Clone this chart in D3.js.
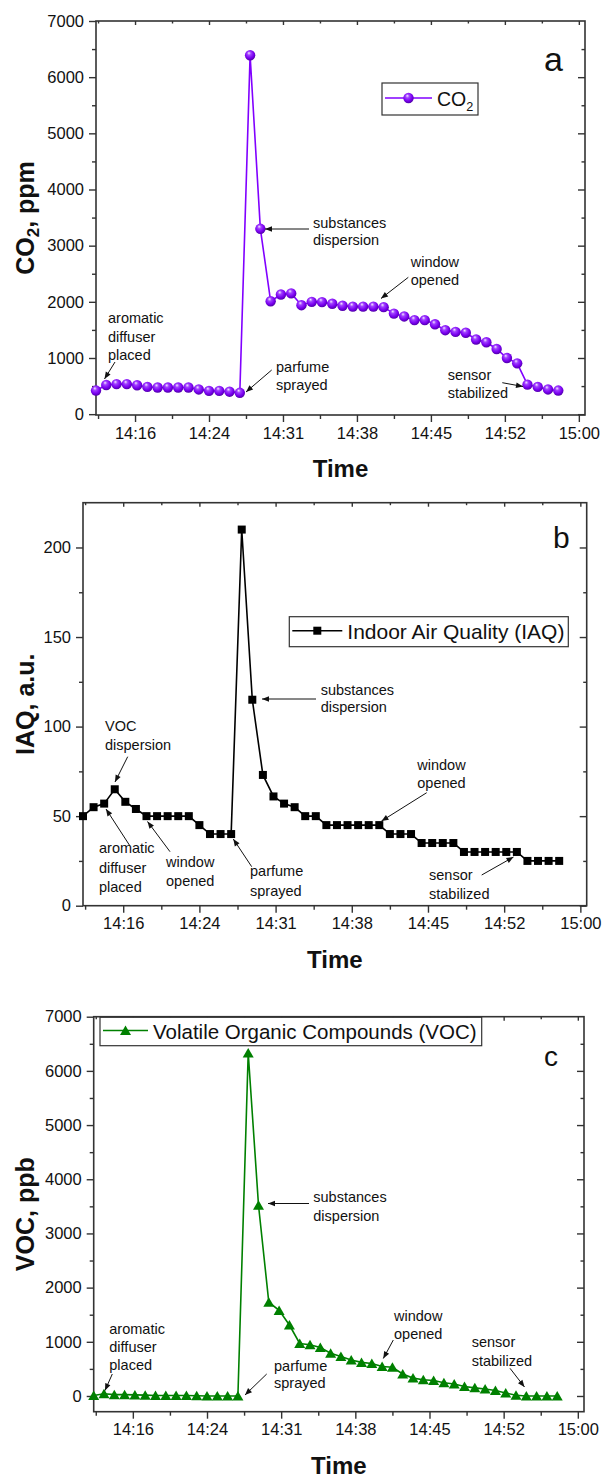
<!DOCTYPE html>
<html>
<head>
<meta charset="utf-8">
<script src="https://cdn.jsdelivr.net/npm/d3@7"></script>
<style>
  body { margin: 0; background: #fff; }
  svg { display: block; }
  text { font-family: "Liberation Sans", Arial, sans-serif; fill: #111; }
</style>
</head>
<body>
<div id="chart"></div>
<script>
const WIDTH = 604;
const HEIGHT = 1479;

// sample times, one per minute
const times = ["14:13","14:14","14:15","14:16","14:17","14:18","14:19","14:20","14:21","14:22",
  "14:23","14:24","14:25","14:26","14:27","14:28","14:29","14:30","14:31","14:32",
  "14:33","14:34","14:35","14:36","14:37","14:38","14:39","14:40","14:41","14:42",
  "14:43","14:44","14:45","14:46","14:47","14:48","14:49","14:50","14:51","14:52",
  "14:53","14:54","14:55","14:56","14:57","14:58"];

const co2 = [420, 520, 535, 535, 515, 485, 475, 475, 475, 475,
  440, 415, 415, 400, 380, 6390, 3300, 2010, 2130, 2150,
  1940, 2000, 1995, 1965, 1930, 1915, 1915, 1915, 1905, 1790,
  1740, 1675, 1675, 1600, 1495, 1465, 1450, 1330, 1280, 1160,
  1000, 905, 525, 485, 440, 420];

const iaq = [50, 55, 57, 65, 58, 54, 50, 50, 50, 50,
  50, 45, 40, 40, 40, 210, 115, 73, 61, 57,
  55, 50, 50, 45, 45, 45, 45, 45, 45, 40,
  40, 40, 35, 35, 35, 35, 30, 30, 30, 30,
  30, 30, 25, 25, 25, 25];

const voc = [10, 40, 25, 25, 20, 15, 10, 10, 10, 10,
  5, 0, 0, 0, 0, 6330, 3520, 1730, 1580, 1310,
  970, 945, 895, 790, 730, 665, 620, 600, 545, 530,
  405, 330, 300, 285, 245, 220, 175, 150, 130, 100,
  55, 15, 0, 0, 0, 0];

// x axis: Origin-style day-fraction ticks (every 7.2 min)
const xMajor = [856.8, 864, 871.2, 878.4, 885.6, 892.8, 900];
const xMinor = [853.2, 860.4, 867.6, 874.8, 882, 889.2, 896.4];
const xTickLabels = ["14:16", "14:24", "14:31", "14:38", "14:45", "14:52", "15:00"];
const xDomain = [853.0, 900.6];

const toMin = s => { const p = s.split(":"); return +p[0] * 60 + +p[1]; };

const svg = d3.select("#chart").append("svg")
  .attr("width", WIDTH)
  .attr("height", HEIGHT);

const defs = svg.append("defs");
const grad = defs.append("radialGradient")
  .attr("id", "sphere").attr("cx", "45%").attr("cy", "40%").attr("r", "60%")
  .attr("fx", "38%").attr("fy", "28%");
grad.append("stop").attr("offset", "0%").attr("stop-color", "#f4e8ff");
grad.append("stop").attr("offset", "30%").attr("stop-color", "#a040ff");
grad.append("stop").attr("offset", "70%").attr("stop-color", "#7a00f0");
grad.append("stop").attr("offset", "100%").attr("stop-color", "#5000a8");

defs.append("marker")
  .attr("id", "arrow")
  .attr("viewBox", "0 0 10 10")
  .attr("refX", 10).attr("refY", 5)
  .attr("markerWidth", 8).attr("markerHeight", 7)
  .attr("markerUnits", "userSpaceOnUse")
  .attr("orient", "auto")
  .append("path").attr("d", "M0,1 L10,5 L0,9 Z").attr("fill", "#111");

const AXIS_COLOR = "#333";

function drawMarker(g, type, color, cx, cy) {
  if (type === "sphere") {
    g.append("circle").attr("cx", cx).attr("cy", cy).attr("r", 5.2)
      .attr("fill", "url(#sphere)");
  } else if (type === "square") {
    g.append("rect").attr("x", cx - 4).attr("y", cy - 4)
      .attr("width", 8).attr("height", 8).attr("fill", color);
  } else {
    g.append("path")
      .attr("d", `M${cx},${cy - 5} L${cx + 5.5},${cy + 4.5} L${cx - 5.5},${cy + 4.5} Z`)
      .attr("fill", color);
  }
}

function drawPanel(p) {
  const g = svg.append("g");
  const x = d3.scaleLinear().domain(xDomain).range([p.left, p.right]);
  const y = d3.scaleLinear().domain(p.yDomain).range([p.bottom, p.top]);

  // frame
  g.append("rect")
    .attr("x", p.left).attr("y", p.top)
    .attr("width", p.right - p.left).attr("height", p.bottom - p.top)
    .attr("fill", "none").attr("stroke", AXIS_COLOR).attr("stroke-width", 1.6);

  const styleAxis = sel => {
    sel.select(".domain").remove();
    sel.selectAll("line").attr("stroke", AXIS_COLOR).attr("stroke-width", 1.4);
    sel.selectAll("text").attr("font-size", 16.5).attr("fill", "#111")
      .style("font-family", '"Liberation Sans", Arial, sans-serif');
  };

  // bottom axis (outward ticks)
  g.append("g").attr("transform", `translate(0,${p.bottom})`)
    .call(d3.axisBottom(x).tickValues(xMajor).tickSizeInner(7).tickSizeOuter(0)
      .tickPadding(5).tickFormat((d, i) => xTickLabels[i]))
    .call(styleAxis);
  g.append("g").attr("transform", `translate(0,${p.bottom})`)
    .call(d3.axisBottom(x).tickValues(xMinor).tickSizeInner(4).tickSizeOuter(0).tickFormat(""))
    .call(styleAxis);
  // top axis (inward ticks)
  g.append("g").attr("transform", `translate(0,${p.top})`)
    .call(d3.axisTop(x).tickValues(xMajor.filter(v => v < xDomain[1])).tickSizeInner(-4).tickSizeOuter(0).tickFormat(""))
    .call(styleAxis);
  g.append("g").attr("transform", `translate(0,${p.top})`)
    .call(d3.axisTop(x).tickValues(xMinor).tickSizeInner(-2.5).tickSizeOuter(0).tickFormat(""))
    .call(styleAxis);

  // left axis (outward)
  g.append("g").attr("transform", `translate(${p.left},0)`)
    .call(d3.axisLeft(y).tickValues(p.yMajor).tickSizeInner(7).tickSizeOuter(0)
      .tickPadding(5).tickFormat(d3.format("d")))
    .call(styleAxis);
  g.append("g").attr("transform", `translate(${p.left},0)`)
    .call(d3.axisLeft(y).tickValues(p.yMinor).tickSizeInner(4).tickSizeOuter(0).tickFormat(""))
    .call(styleAxis);
  // right axis (inward)
  g.append("g").attr("transform", `translate(${p.right},0)`)
    .call(d3.axisRight(y).tickValues(p.yMajor.filter(v => y(v) > p.top + 1)).tickSizeInner(-7).tickSizeOuter(0).tickFormat(""))
    .call(styleAxis);
  g.append("g").attr("transform", `translate(${p.right},0)`)
    .call(d3.axisRight(y).tickValues(p.yMinor).tickSizeInner(-3.5).tickSizeOuter(0).tickFormat(""))
    .call(styleAxis);

  // axis titles
  g.append("text")
    .attr("x", (p.left + p.right) / 2).attr("y", p.bottom + 62)
    .attr("text-anchor", "middle").attr("font-size", 24).attr("font-weight", "bold")
    .text("Time");
  const yt = g.append("text")
    .attr("transform", `translate(34,${(p.top + p.bottom) / 2}) rotate(-90)`)
    .attr("text-anchor", "middle").attr("font-size", 25).attr("font-weight", "bold");
  p.yTitle.forEach(part => {
    const ts = yt.append("tspan").text(part.t);
    if (part.sub) ts.attr("font-size", 17).attr("dy", 5);
    if (part.after) ts.attr("dy", -5);
  });

  // series
  const pts = times.map((t, i) => ({ t: toMin(t), v: p.values[i] }));
  g.append("path").datum(pts)
    .attr("d", d3.line().x(d => x(d.t)).y(d => y(d.v)))
    .attr("fill", "none").attr("stroke", p.color).attr("stroke-width", 1.6);
  const mg = g.append("g");
  pts.forEach(d => drawMarker(mg, p.marker, p.color, x(d.t), y(d.v)));

  // legend
  const L = p.legend;
  g.append("rect").attr("x", L.x).attr("y", L.y).attr("width", L.w).attr("height", L.h)
    .attr("fill", "#fff").attr("stroke", AXIS_COLOR).attr("stroke-width", 1.2);
  const ly = L.y + L.h / 2 - 1;
  g.append("line").attr("x1", L.x + 3).attr("x2", L.x + L.lineW).attr("y1", ly).attr("y2", ly)
    .attr("stroke", p.color).attr("stroke-width", 1.6);
  drawMarker(g, p.marker, p.color, L.x + 3 + (L.lineW - 3) / 2, ly);
  const lt = g.append("text").attr("x", L.x + L.lineW + 5).attr("y", L.y + L.h / 2 + 7)
    .attr("font-size", L.fs);
  L.label.forEach(part => {
    const ts = lt.append("tspan").text(part.t);
    if (part.sub) ts.attr("font-size", L.fs * 0.65).attr("dy", 5);
  });

  // panel letter
  g.append("text").attr("x", p.letter.x).attr("y", p.letter.y)
    .attr("font-size", p.letter.fs).attr("font-weight", p.letter.fw || "normal")
    .text(p.letter.t);

  // annotations
  p.notes.forEach(n => {
    const t = g.append("text").attr("font-size", 14.5);
    n.lines.forEach((s, i) => t.append("tspan").attr("x", n.x).attr("y", n.y + i * n.lh).text(s));
    g.append("line")
      .attr("x1", n.a[0]).attr("y1", n.a[1]).attr("x2", n.a[2]).attr("y2", n.a[3])
      .attr("stroke", "#111").attr("stroke-width", 1)
      .attr("marker-end", "url(#arrow)");
  });
}

drawPanel({
  left: 96, right: 585, top: 21, bottom: 415,
  yDomain: [-15, 7000],
  yMajor: d3.range(0, 7001, 1000), yMinor: d3.range(500, 7000, 1000),
  values: co2, color: "#8000ff", marker: "sphere",
  yTitle: [{ t: "CO" }, { t: "2", sub: true }, { t: ", ppm", after: true }],
  legend: { x: 382, y: 83, w: 96, h: 32, lineW: 50, fs: 19.5, label: [{ t: "CO" }, { t: "2", sub: true }] },
  letter: { t: "a", x: 544, y: 71, fs: 34 },
  notes: [
    { lines: ["aromatic", "diffuser", "placed"], x: 108, y: 323, lh: 18.5, a: [115, 362, 104.5, 379] },
    { lines: ["parfume", "sprayed"], x: 276, y: 372, lh: 18.3, a: [271.7, 370, 246, 392] },
    { lines: ["substances", "dispersion"], x: 313, y: 228, lh: 17, a: [309, 229, 265, 229] },
    { lines: ["window", "opened"], x: 410.7, y: 267.3, lh: 17.7, a: [408.3, 277.3, 381, 298.5] },
    { lines: ["sensor", "stabilized"], x: 447.7, y: 380, lh: 18, a: [502.3, 382.7, 523, 386.5] }
  ]
});

drawPanel({
  left: 83, right: 586.7, top: 502.7, bottom: 905.7,
  yDomain: [0, 225],
  yMajor: d3.range(0, 201, 50), yMinor: d3.range(25, 225, 50),
  values: iaq, color: "#000", marker: "square",
  yTitle: [{ t: "IAQ, a.u." }],
  legend: { x: 289.3, y: 616.7, w: 279, h: 30, lineW: 53, fs: 21, label: [{ t: "Indoor Air Quality (IAQ)" }] },
  letter: { t: "b", x: 553, y: 548.3, fs: 30 },
  notes: [
    { lines: ["VOC", "dispersion"], x: 105, y: 730.5, lh: 19, a: [127.7, 756.7, 115, 782] },
    { lines: ["aromatic", "diffuser", "placed"], x: 99, y: 853.3, lh: 19.2, a: [130, 846, 106, 809] },
    { lines: ["window", "opened"], x: 166, y: 866.7, lh: 19.3, a: [170, 851.7, 147.5, 821.5] },
    { lines: ["parfume", "sprayed"], x: 250, y: 876, lh: 20, a: [251.7, 866.7, 233.3, 839] },
    { lines: ["substances", "dispersion"], x: 320.7, y: 695, lh: 17, a: [316, 699, 262, 699] },
    { lines: ["window", "opened"], x: 417.3, y: 770, lh: 18.3, a: [426.7, 792.7, 381.5, 821] },
    { lines: ["sensor", "stabilized"], x: 429, y: 880, lh: 19.3, a: [481.7, 875, 513.5, 857] }
  ]
});

drawPanel({
  left: 93.7, right: 584, top: 1016.7, bottom: 1411.7,
  yDomain: [-290, 7000],
  yMajor: d3.range(0, 7001, 1000), yMinor: d3.range(500, 7000, 1000),
  values: voc, color: "#008000", marker: "triangle",
  yTitle: [{ t: "VOC, ppb" }],
  legend: { x: 100, y: 1017.3, w: 381.7, h: 28.4, lineW: 48, fs: 20.5, label: [{ t: "Volatile Organic Compounds (VOC)" }] },
  letter: { t: "c", x: 544, y: 1066, fs: 28 },
  notes: [
    { lines: ["aromatic", "diffuser", "placed"], x: 109.3, y: 1334, lh: 18, a: [112.3, 1374, 105, 1390.5] },
    { lines: ["parfume", "sprayed"], x: 274, y: 1370.7, lh: 17.7, a: [266.7, 1374, 245, 1395] },
    { lines: ["substances", "dispersion"], x: 313.3, y: 1202.3, lh: 18.5, a: [309, 1203.5, 268, 1203.5] },
    { lines: ["window", "opened"], x: 394, y: 1321, lh: 18.3, a: [393.3, 1340, 383.3, 1358.5] },
    { lines: ["sensor", "stabilized"], x: 471.7, y: 1346.7, lh: 19.3, a: [510, 1368.3, 524.5, 1387] }
  ]
});
</script>
</body>
</html>
